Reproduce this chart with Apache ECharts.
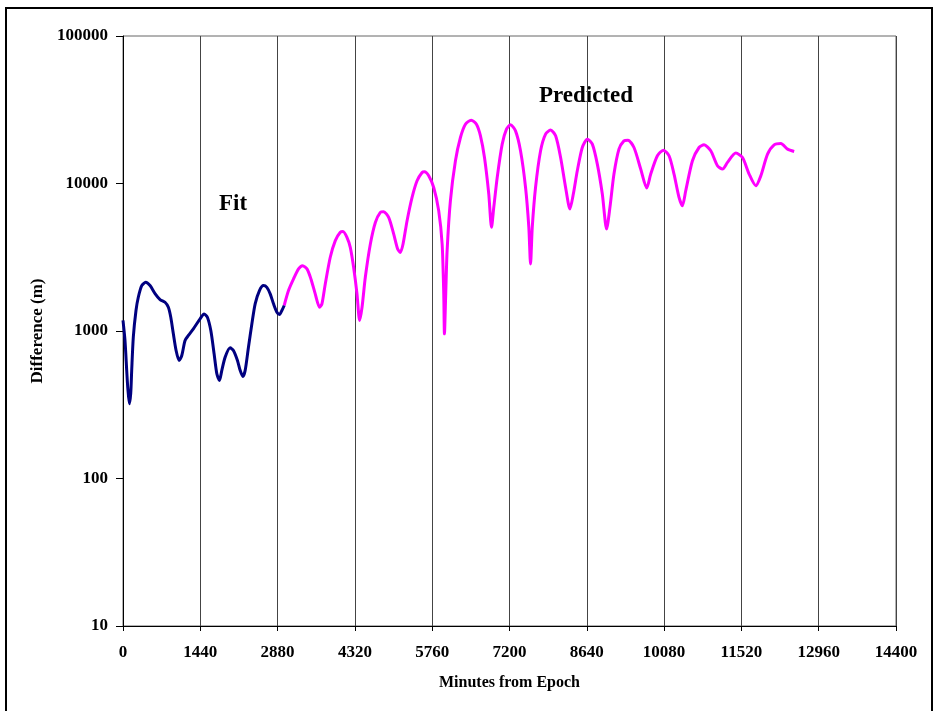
<!DOCTYPE html>
<html>
<head>
<meta charset="utf-8">
<script src="https://cdn.jsdelivr.net/npm/echarts@6/dist/echarts.min.js"></script>
<style>html,body{margin:0;padding:0;background:#fff}#c{width:935px;height:711px}</style>
</head>
<body>
<div id="c"></div>
<script>
var xTicks = [0,1440,2880,4320,5760,7200,8640,10080,11520,12960,14400];
var yTicks = [10,100,1000,10000,100000];

var fitMinutes = [0,37,69,88,118,144,162,192,242,285,349,423,504,597,690,783,845,890,938,989,1045,1095,1156,1218,1311,1436,1511,1572,1636,1697,1748,1796,1841,1903,1996,2057,2132,2182,2233,2276,2337,2401,2462,2542,2617,2680,2742,2804,2867,2915,2960,3003];
var fitDiff = [1180,863,541,417,321,378,541,908,1377,1694,2032,2138,2032,1795,1634,1566,1449,1240,957,738,631,682,863,933,1035,1210,1306,1240,1007,701,513,462,541,665,769,738,631,541,492,541,777,1119,1528,1879,2032,1977,1785,1528,1340,1294,1377,1489];

var predMinutes = [3003,3083,3177,3270,3345,3427,3501,3581,3662,3706,3768,3861,3955,4048,4098,4172,4234,4296,4359,4408,4453,4514,4608,4701,4794,4855,4949,5042,5116,5167,5217,5292,5385,5478,5572,5615,5695,5788,5881,5945,5975,5988,6012,6038,6099,6193,6286,6379,6486,6584,6659,6734,6814,6865,6907,6971,7064,7144,7219,7312,7405,7499,7560,7592,7624,7685,7779,7872,7965,8059,8152,8245,8326,8389,8463,8556,8650,8743,8836,8929,9009,9071,9146,9239,9332,9407,9519,9644,9756,9831,9955,10067,10172,10265,10358,10421,10483,10608,10731,10824,10949,11074,11168,11261,11416,11541,11664,11789,11882,12007,12130,12255,12380,12503];
var predDiff = [1489,1879,2254,2636,2773,2636,2254,1785,1449,1528,2086,3162,4100,4667,4732,4315,3690,2704,1785,1178,1449,2312,3890,5445,6368,6442,5888,4550,3597,3412,3890,5598,8054,10440,11880,12020,11280,9398,6546,3890,1785,957,1785,3508,7638,14260,20500,25240,26870,25240,21040,15000,8483,5042,6887,10990,18490,23370,24980,22750,16670,9398,5042,2851,5042,9398,16670,21630,23010,21040,15000,9398,6714,8483,12190,17540,19990,18490,13540,8483,4917,6887,11590,17100,19460,19680,17540,12530,9311,11590,15420,16830,15420,11590,8054,7063,8933,14260,17540,18290,16670,13180,12530,13900,16070,15000,11590,9661,11280,15810,18290,18660,17100,16480];

function pairs(xs, ys){ var o=[]; for(var i=0;i<xs.length;i++) o.push([xs[i], ys[i]]); return o; }

var FONT = '"Liberation Serif","Times New Roman",serif';
var chart = echarts.init(document.getElementById('c'), null, {renderer:'canvas'});
chart.setOption({
  animation: false,
  backgroundColor: '#fff',
  grid: {left:123, right:39, top:36, bottom:85, show:true, borderColor:'#666', borderWidth:1, backgroundColor:'transparent'},
  xAxis: {
    type:'value', min:0, max:14400, interval:1440,
    name:'Minutes from Epoch', nameLocation:'middle', nameGap:49,
    nameTextStyle:{fontFamily:FONT, fontWeight:'bold', fontSize:16, color:'#000'},
    axisLine:{show:true, onZero:false, lineStyle:{color:'#000', width:1}},
    axisTick:{show:true, length:5, lineStyle:{color:'#000'}},
    axisLabel:{fontFamily:FONT, fontWeight:'bold', fontSize:17, color:'#000', margin:18,
      formatter:function(v){ return xTicks.indexOf(v)>=0 ? String(v) : ''; }},
    splitLine:{show:true, lineStyle:{color:'#444', width:1}}
  },
  yAxis: {
    type:'log', logBase:10, min:10, max:100000,
    name:'Difference (m)', nameLocation:'middle', nameGap:77, nameRotate:90,
    nameTextStyle:{fontFamily:FONT, fontWeight:'bold', fontSize:17, color:'#000'},
    axisLine:{show:true, lineStyle:{color:'#000', width:1}},
    axisTick:{show:true, length:7, lineStyle:{color:'#000'}},
    minorTick:{show:false},
    axisLabel:{fontFamily:FONT, fontWeight:'bold', fontSize:17, color:'#000', margin:15,
      formatter:function(v){ var r=Math.round(v); return yTicks.indexOf(r)>=0 ? String(r) : ''; }},
    splitLine:{show:false}
  },
  series: [
    {type:'line', name:'Fit', data:pairs(fitMinutes, fitDiff), showSymbol:false, smooth:0.25,
     lineStyle:{color:'#000080', width:3}, itemStyle:{color:'#000080'}, z:3},
    {type:'line', name:'Predicted', data:pairs(predMinutes, predDiff), showSymbol:false, smooth:0.25,
     lineStyle:{color:'#FF00FF', width:3}, itemStyle:{color:'#FF00FF'}, z:2}
  ],
  graphic: [
    {type:'rect', shape:{x:6, y:8, width:926, height:720}, style:{fill:'none', stroke:'#000', lineWidth:2}, silent:true},
    {type:'text', x:233, y:204, style:{text:'Fit', font:'bold 23px '+FONT, fill:'#000', textAlign:'center', textVerticalAlign:'middle'}},
    {type:'text', x:586, y:96, style:{text:'Predicted', font:'bold 23px '+FONT, fill:'#000', textAlign:'center', textVerticalAlign:'middle'}}
  ]
});
</script>
</body>
</html>
